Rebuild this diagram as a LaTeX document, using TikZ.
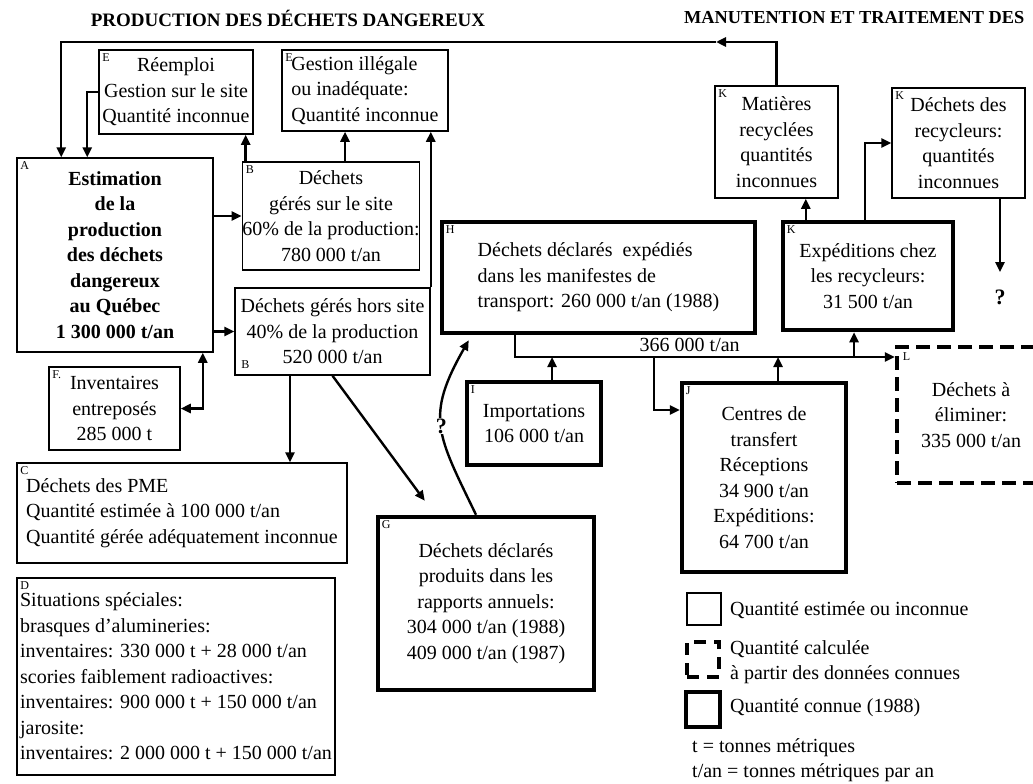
\documentclass[tikz,border=0pt]{standalone}
\usepackage{fontspec}
\setmainfont{Liberation Serif}
\usetikzlibrary{arrows.meta,positioning}

\newcommand{\bodyfont}{\fontsize{20}{25.5}\selectfont}

\begin{document}
\begin{tikzpicture}[
  x=1pt, y=-1pt,
  font=\bodyfont,
  box/.style={draw, line width=1.5pt, align=center, inner sep=0pt},
  known/.style={box, line width=4.5pt},
  calcd/.style={box, line width=4.5pt, dash pattern=on 14pt off 7pt},
  tag/.style={font=\fontsize{12}{12}\selectfont\mdseries, inner sep=4pt},
  ttl/.style={font=\fontsize{19}{22}\selectfont\bfseries, inner sep=0pt},
  qmark/.style={font=\fontsize{22}{22}\selectfont\bfseries},
  arr/.style={-{Triangle[length=10pt,width=9pt]}, line width=2.4pt},
  arrs/.style={{Triangle[length=10pt,width=9pt]}-{Triangle[length=10pt,width=9pt]}, line width=2.4pt}
]
\useasboundingbox (0,0) rectangle (1033,784);

% titres
\node[ttl] (t1) at (288,18) {PRODUCTION DES DÉCHETS DANGEREUX};
\node[ttl, font=\fontsize{18.3}{22}\selectfont\bfseries, anchor=west] (t2) at (684,18)
  {MANUTENTION ET TRAITEMENT DES};

% production
\node[box, minimum width=154pt, minimum height=84pt,
  label={[tag,anchor=north west]north west:E}] (reuse) at (176,92)
  {Réemploi\\Gestion sur le site\\Quantité inconnue};
\node[box, align=left, minimum width=166pt, minimum height=81pt,
  label={[tag,anchor=north west]north west:E}] (illeg) at (365,90.5)
  {Gestion illégale\\ou inadéquate:\\Quantité inconnue};
\node[box, minimum width=196pt, minimum height=194pt, font=\bodyfont\bfseries,
  label={[tag,anchor=north west]north west:A}] (prod) at (115,255)
  {Estimation\\de la\\production\\des déchets\\dangereux\\au Québec\\1 300 000 t/an};
\node[box, minimum width=174pt, minimum height=108pt,
  label={[tag,anchor=north west]north west:B}] (onsite) at (331,216)
  {Déchets\\gérés sur le site\\60\% de la production:\\780 000 t/an};
\node[box, minimum width=195pt, minimum height=87pt,
  label={[tag,inner sep=7pt,anchor=south west]south west:B}] (offsite) at (332.5,331.5)
  {Déchets gérés hors site\\40\% de la production\\520 000 t/an};
\node[box, minimum width=131pt, minimum height=83pt,
  label={[tag,anchor=north west]north west:F.}] (stock) at (114.5,408.5)
  {Inventaires\\entreposés\\285 000 t};
\node[box, align=left, minimum width=330pt, minimum height=100pt,
  label={[tag,anchor=north west]north west:C}] (pme) at (182,513)
  {Déchets des PME\\Quantité estimée à 100 000 t/an\\Quantité gérée adéquatement inconnue};
\node[box, align=left, minimum width=318pt, minimum height=197pt,
  label={[tag,anchor=north west]north west:D}] (special) at (176,676.5)
  {Situations spéciales:\\brasques d’alumineries:\\inventaires: 330 000 t + 28 000 t/an\\
   scories faiblement radioactives:\\inventaires: 900 000 t + 150 000 t/an\\jarosite:\\
   inventaires: 2 000 000 t + 150 000 t/an};
\node[known, minimum width=216pt, minimum height=173pt,
  label={[tag,inner sep=6pt,anchor=north west]north west:G}] (reports) at (486,603.5)
  {Déchets déclarés\\produits dans les\\rapports annuels:\\304 000 t/an (1988)\\409 000 t/an (1987)};

% manutention et traitement
\node[known, align=left, minimum width=313pt, minimum height=111pt,
  label={[tag,inner sep=6pt,anchor=north west]north west:H}] (manif) at (598.5,277.5)
  {Déchets déclarés\ \ expédiés\\dans les manifestes de\\transport: 260 000 t/an (1988)};
\node[known, minimum width=134pt, minimum height=83pt,
  label={[tag,inner sep=6pt,anchor=north west]north west:I}] (imports) at (534,423.5)
  {Importations\\106 000 t/an};
\node[known, minimum width=164pt, minimum height=189pt,
  label={[tag,inner sep=6pt,anchor=north west]north west:J}] (transfer) at (764,477.5)
  {Centres de\\transfert\\Réceptions\\34 900 t/an\\Expéditions:\\64 700 t/an};
\node[known, minimum width=170pt, minimum height=108pt,
  label={[tag,inner sep=6pt,anchor=north west]north west:K}] (recyc) at (868,276)
  {Expéditions chez\\les recycleurs:\\31 500 t/an};
\node[box, minimum width=123pt, minimum height=112pt,
  label={[tag,anchor=north west]north west:K}] (mat) at (776.5,142)
  {Matières\\recyclées\\quantités\\inconnues};
\node[box, minimum width=133pt, minimum height=110pt,
  label={[tag,anchor=north west]north west:K}] (recwaste) at (958.5,143)
  {Déchets des\\recycleurs:\\quantités\\inconnues};
\node[calcd, minimum width=148pt, minimum height=136pt,
  label={[tag,inner sep=8pt,anchor=north west]north west:L}] (elim) at (971,415)
  {Déchets à\\éliminer:\\335 000 t/an};
\node[qmark] (q2) at (1000,297) {?};

% légende
\node[box, minimum width=34pt, minimum height=32pt] (lgest) at (704,609) {};
\node[calcd, line width=4pt, dash pattern=on 12pt off 8pt,
  minimum width=32pt, minimum height=35pt] (lgcalc) at (703,659.5) {};
\node[known, minimum width=34pt, minimum height=35pt] (lgknown) at (703,709.5) {};
\node[anchor=west, inner sep=2pt] (lgt1) at (728,610) {Quantité estimée ou inconnue};
\node[anchor=west, align=left, inner sep=2pt] (lgt2) at (728,662)
  {Quantité calculée\\à partir des données connues};
\node[anchor=west, inner sep=2pt] (lgt3) at (728,708) {Quantité connue (1988)};
\node[anchor=west, align=left, inner sep=2pt] (lgt4) at (690,760)
  {t = tonnes métriques\\t/an = tonnes métriques par an};

% connecteurs
\coordinate (loopM) at (716,42);
\draw[arr] (mat.north) |- (loopM);
\draw[arr] (loopM) -| ([xshift=45pt]prod.north west);
\draw[arr] (reuse.west) -| ([xshift=71pt]prod.north west);
\draw[arr] (onsite.west -| prod.east) -- (onsite.west);
\draw[arr] (offsite.west -| prod.east) -- (offsite.west);
\draw[arr] ([xshift=4pt]onsite.north west) -- ([xshift=4pt]onsite.north west |- reuse.south);
\draw[arr] ([xshift=14pt]onsite.north) -- ([xshift=14pt]onsite.north |- illeg.south);
\draw[arr] (offsite.north east) -- (offsite.north east |- illeg.south);
\draw[arrs] (stock.east) -| ([xshift=-11pt]prod.south east);
\draw[arr] ([xshift=-42.5pt]offsite.south) -- ([xshift=-42.5pt]offsite.south |- pme.north);
\draw[arr] (offsite.south) -- ([shift={(49pt,14pt)}]reports.north west);
\coordinate (hitH) at ([shift={(29pt,-5pt)}]manif.south west);
\draw[arr] ([xshift=-10pt]reports.north) .. controls (437,434) and (425,417) .. (hitH)
  node[qmark, pos=0.5, fill=white, inner sep=1pt] (q1) {?};

\coordinate (busW) at (515,357);
\coordinate (busE) at (elim.west |- busW);
\coordinate (split) at (654,357);
\draw[arr] (busW |- manif.south) -- (busW) -- node[pos=0.46, above=1pt] (flow) {366 000 t/an} (busE);
\draw[arr] ([xshift=18pt]imports.north) -- ([xshift=18pt]imports.north |- busW);
\draw[arr] (split) |- ([yshift=67.5pt]transfer.west);
\draw[arr] ([xshift=14pt]transfer.north) -- ([xshift=14pt]transfer.north |- busW);
\draw[arr] ([xshift=-14pt]recyc.south |- busW) -- ([xshift=-14pt]recyc.south);
\draw[arr] ([xshift=25pt]recyc.north west) -- ([xshift=25pt]recyc.north west |- mat.south);
\draw[arr] ([xshift=-3pt]recyc.north) |- (recwaste.west);
\draw[arr, shorten >=14pt] (recwaste.south -| q2) -- (q2.north);
\end{tikzpicture}
\end{document}
